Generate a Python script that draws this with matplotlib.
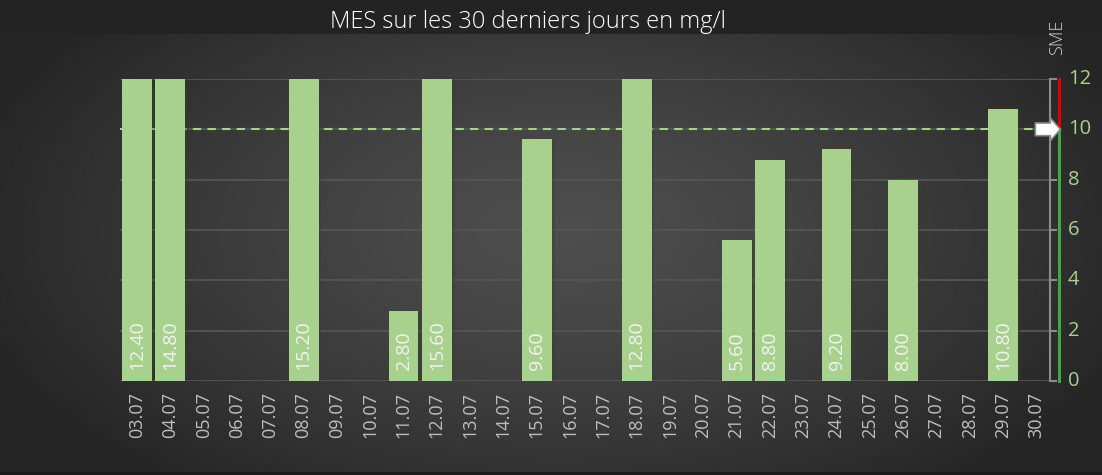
import matplotlib
matplotlib.use("Agg")
import matplotlib.pyplot as plt
import matplotlib.patheffects as pe
from matplotlib.patches import Polygon
import numpy as np

days = ["03.07", "04.07", "05.07", "06.07", "07.07", "08.07", "09.07", "10.07",
        "11.07", "12.07", "13.07", "14.07", "15.07", "16.07", "17.07", "18.07",
        "19.07", "20.07", "21.07", "22.07", "23.07", "24.07", "25.07", "26.07",
        "27.07", "28.07", "29.07", "30.07"]
mes = [12.40, 14.80, None, None, None, 15.20, None, None,
       2.80, 15.60, None, None, 9.60, None, None, 12.80,
       None, None, 5.60, 8.80, None, 9.20, None, 8.00,
       None, None, 10.80, None]
seuil = 10
y_max = 12
y_ticks = [0, 2, 4, 6, 8, 10, 12]

green = "#a9d18e"

fig = plt.figure(figsize=(11.02, 4.75), dpi=100)

# fond : bandeau sombre en haut + dégradé radial
bg = fig.add_axes([0, 0, 1, 1], zorder=-10)
bg.set_axis_off()
H, W = 475, 1102
yy, xx = np.mgrid[0:H, 0:W]
d = np.sqrt(((xx - 560) / 620.0) ** 2 + ((yy - 230) / 330.0) ** 2)
val = 0x4e - (0x4e - 0x25) * np.clip(d, 0, 1) ** 1.3
val[:34] = 0x23
val[472:] = 0x1a
img = np.dstack([val, val, val]) / 255.0
bg.imshow(img, extent=[0, 1, 0, 1], aspect="auto")
bg.set_xlim(0, 1)
bg.set_ylim(0, 1)

ax = fig.add_axes([120.4 / 1102, 94 / 475, (1053 - 120.4) / 1102, 302 / 475])
ax.set_facecolor("none")
x = np.arange(len(days))
heights = [v if v is not None else 0 for v in mes]
bars = ax.bar(x, heights, width=0.9, color=green, zorder=3)
for b in bars:
    b.set_path_effects([pe.SimplePatchShadow(offset=(2, -1), alpha=0.35), pe.Normal()])

for i, v in enumerate(mes):
    if v is not None:
        ax.text(i, 0.45, f"{v:.2f}", rotation=90, ha="center", va="bottom",
                color="#f2f2f2", fontsize=14, family="Open Sans", zorder=4)

for t in y_ticks:
    ax.axhline(t, color="#555555", lw=1.3, zorder=1)

ax.axhline(seuil, xmin=0, xmax=(27.1 + 0.5) / 28, color=green, lw=1.5,
           ls=(0, (4, 3)), zorder=2)

ax.set_xlim(-0.5, 27.5)
ax.set_ylim(0, y_max)
ax.set_xticks(x)
ax.set_xticklabels(days, rotation=90, color="#bfbfbf", fontsize=13, family="Open Sans")
ax.tick_params(axis="x", length=0, pad=8)
ax.set_yticks([])
for s in ax.spines.values():
    s.set_visible(False)

# axe de droite
xr = 27.42
ax.plot([xr, xr], [0, y_max], color="#8c8c8c", lw=1.5, clip_on=False, zorder=5)
for t in y_ticks:
    ax.plot([xr - 0.02, xr + 0.18], [t, t], color="#8c8c8c", lw=1.5, clip_on=False, zorder=5)
    ax.text(27.95, t, str(t), ha="left", va="center", color=green, fontsize=14.5,
            family="Open Sans", clip_on=False)
xc = 27.69
ax.plot([xc, xc], [seuil, y_max], color="#e00000", lw=2.2, clip_on=False, zorder=5)
ax.plot([xc, xc], [0, seuil], color="#3fa83f", lw=2.2, clip_on=False, zorder=5)

arrow = Polygon([(26.97, seuil - 0.25), (27.42, seuil - 0.25), (27.42, seuil - 0.45),
                 (27.72, seuil), (27.42, seuil + 0.45), (27.42, seuil + 0.25),
                 (26.97, seuil + 0.25)], closed=True, facecolor="white",
                edgecolor="#8c8c8c", lw=1.2, clip_on=False, zorder=6)
ax.add_patch(arrow)

fig.text(528 / 1102, 1 - 22 / 475, "MES sur les 30 derniers jours en mg/l", ha="center",
         va="center", color="white", fontsize=17, family="Open Sans", fontweight="light")
fig.text(1057 / 1102, 1 - 37 / 475, "SME", rotation=90, ha="center", va="center",
         color="#d0d0d0", fontsize=13, family="Open Sans", fontweight="light")

fig.savefig("out.png", dpi=100)
